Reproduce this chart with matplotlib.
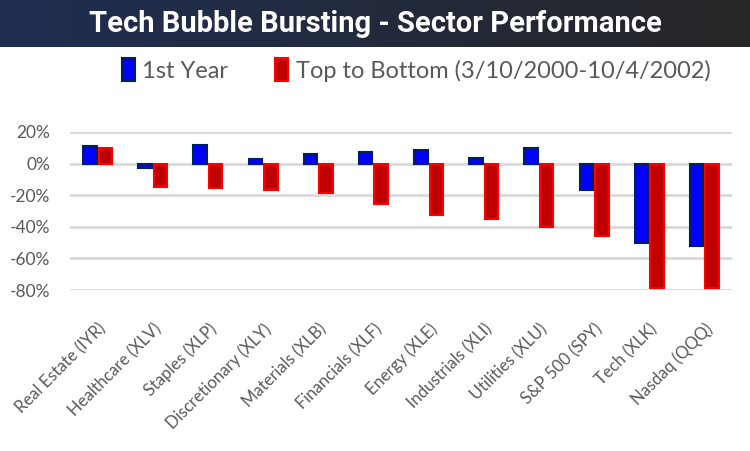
import matplotlib
matplotlib.use("Agg")
import matplotlib.pyplot as plt
import numpy as np
from matplotlib.patches import Patch
from matplotlib.ticker import FuncFormatter

categories = ["Real Estate (IYR)", "Healthcare (XLV)", "Staples (XLP)", "Discretionary (XLY)",
              "Materials (XLB)", "Financials (XLF)", "Energy (XLE)", "Industrials (XLI)",
              "Utilities (XLU)", "S&P 500 (SPY)", "Tech (XLK)", "Nasdaq (QQQ)"]
first_year = [11, -3, 12, 3, 6, 7.6, 8.9, 3.8, 10.1, -16.5, -50, -52]
top_to_bottom = [10, -14.5, -15.4, -16.5, -18.4, -25.3, -32.3, -34.8, -39.9, -45.8, -78.5, -78.5]
series_names = ["1st Year", "Top to Bottom (3/10/2000-10/4/2002)"]
yticks = [20, 0, -20, -40, -60, -80]
title = "Tech Bubble Bursting - Sector Performance"

body_font = ["Lato", "DejaVu Sans"]
title_font = ["Roboto", "DejaVu Sans"]

GRAY = "#595959"
fig = plt.figure(figsize=(7.5, 4.51), dpi=100)

# title banner with gradient
bax = fig.add_axes([0, 1 - 47 / 451, 1, 47 / 451])
c1 = np.array([31, 46, 82]) / 255
c2 = np.array([38, 38, 38]) / 255
t = np.linspace(0, 1, 256)
grad = (c1[None, :] * (1 - t[:, None]) + c2[None, :] * t[:, None])[None, :, :]
bax.imshow(grad, aspect="auto", extent=[0, 1, 0, 1])
bax.set_axis_off()
bax.text(0.5, 0.5, title, color="white", fontsize=21, fontweight="bold",
         family=title_font, ha="center", va="center", transform=bax.transAxes)

ax = fig.add_axes([70 / 750, 1 - 290 / 451, (732 - 70) / 750, (290 - 132) / 451])
x = np.arange(len(categories))
off = 0.14
w = 0.245
ax.bar(x - off, first_year, width=w, color="#0000FF", edgecolor="#002060", linewidth=1.5, zorder=3)
ax.bar(x + off, top_to_bottom, width=w, color="#C00000", edgecolor="#FF0000", linewidth=1.5, zorder=3)

ax.set_xlim(-0.5, len(categories) - 0.5)
ax.set_ylim(-80, 20)
ax.set_yticks(yticks)
ax.yaxis.set_major_formatter(FuncFormatter(lambda v, p: f"{int(v)}%"))
ax.grid(axis="y", color="#D9D9D9", linewidth=2, zorder=0)
for s in ax.spines.values():
    s.set_visible(False)
ax.tick_params(axis="both", length=0, colors=GRAY, labelsize=12.5)
ax.tick_params(axis="y", pad=14)
for lab in ax.get_yticklabels():
    lab.set_family(body_font)
ax.set_xticks(x)
ax.set_xticklabels(categories, rotation=45, ha="right", rotation_mode="anchor",
                   family=body_font, fontsize=12, color=GRAY)
ax.tick_params(axis="x", pad=22)

handles = [Patch(facecolor="#0000FF", edgecolor="#002060", linewidth=1.5),
           Patch(facecolor="#C00000", edgecolor="#FF0000", linewidth=1.5)]
leg = fig.legend(handles, series_names, loc="center", bbox_to_anchor=(0.555, 1 - 70 / 451),
                 ncol=2, frameon=False, handlelength=0.55, handleheight=1.1,
                 handletextpad=0.3, columnspacing=2.0,
                 prop={"family": body_font, "size": 17})
for tx in leg.get_texts():
    tx.set_color(GRAY)

fig.savefig("out.png", dpi=100)
